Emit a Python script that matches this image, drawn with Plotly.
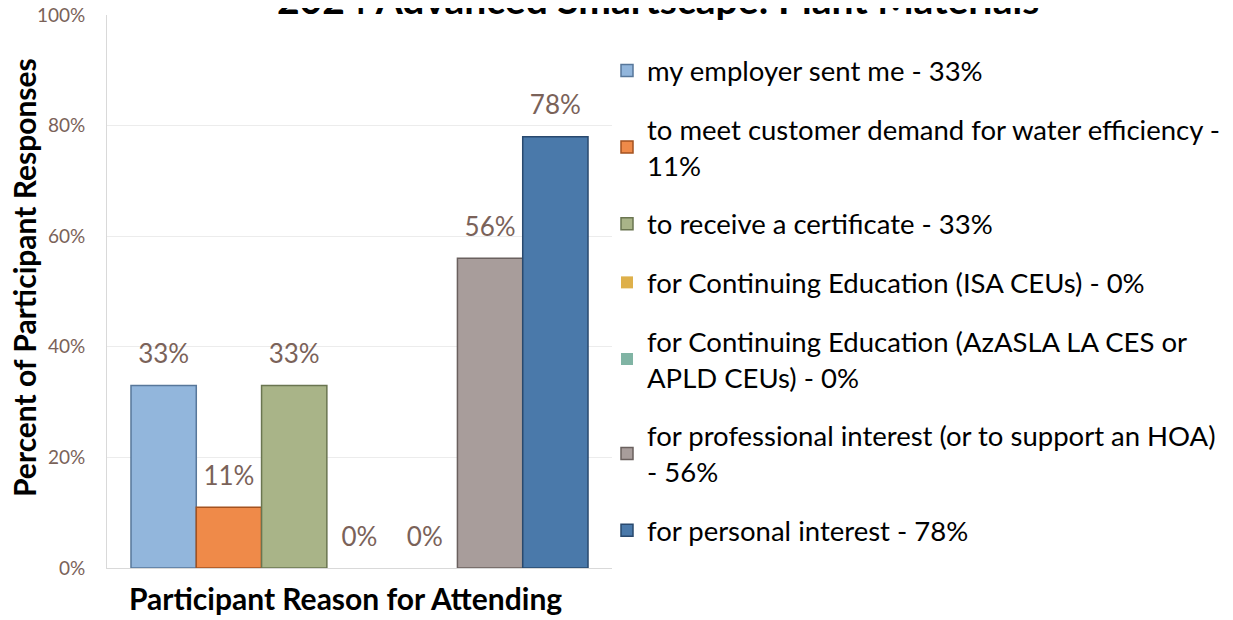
import plotly.graph_objects as go

categories = ["Participant Reason for Attending"]
series_names = [
    "my employer sent me - 33%",
    "to meet customer demand for water efficiency -<br>11%",
    "to receive a certificate - 33%",
    "for Continuing Education (ISA CEUs) - 0%",
    "for Continuing Education (AzASLA LA CES or<br>APLD CEUs) - 0%",
    "for professional interest (or to support an HOA)<br>- 56%",
    "for personal interest - 78%",
]
values = [0.33, 0.11, 0.33, 0.0, 0.0, 0.56, 0.78]
labels = ["33%", "11%", "33%", "0%", "0%", "56%", "78%"]
y_ticks = [0, 0.2, 0.4, 0.6, 0.8, 1.0]
y_tick_labels = ["0%", "20%", "40%", "60%", "80%", "100%"]
fill_colors = ["#92b6dc", "#ef8a49", "#a9b488", "#deb04a", "#80b4a4", "#a89d9b", "#4a79aa"]
edge_colors = ["#57779a", "#a4521f", "#6a7550", "#9a7a30", "#558070", "#6a605e", "#29496e"]

FONT = "Lato, 'Open Sans', sans-serif"
LABEL_COLOR = "#7a6259"

fig = go.Figure()
for name, v, fc, ec in zip(series_names, values, fill_colors, edge_colors):
    fig.add_trace(go.Bar(
        x=categories, y=[v], name=name, legendgroup=name,
        marker=dict(color=fc, line=dict(color=ec, width=1.5 if v > 0 else 0)),
    ))
for name, v, lab in zip(series_names, values, labels):
    fig.add_trace(go.Scatter(
        x=categories, y=[v], mode="markers+text", text=[lab],
        textposition="top center", showlegend=False, hoverinfo="skip",
        marker=dict(size=24, opacity=0), cliponaxis=False,
        textfont=dict(size=26, color=LABEL_COLOR, family=FONT),
    ))

fig.update_layout(
    width=1233, height=620,
    barmode="group", bargap=0.095, bargroupgap=0,
    scattermode="group", scattergap=0.095,
    plot_bgcolor="white", paper_bgcolor="white",
    margin=dict(l=99, r=629, t=7, b=60, autoexpand=False),
    font=dict(family=FONT),
    legend=dict(xref="container", yref="container", x=599/1233, y=1-38/620,
                xanchor="left", yanchor="top", maxheight=600,
                font=dict(size=27.5, color="black", family=FONT),
                tracegroupgap=20, itemwidth=30, bgcolor="rgba(0,0,0,0)"),
    showlegend=True,
    annotations=[
        dict(text="<b>2024 Advanced Smartscape: Plant Materials</b>",
             xref="paper", yref="paper", x=(650 - 99) / 505, y=1,
             xanchor="center", yanchor="bottom", yshift=-9, showarrow=False,
             font=dict(size=39, color="black", family=FONT)),
        dict(text="<b>Percent of Participant Responses</b>", textangle=-90,
             xref="paper", yref="paper", x=(16 - 99) / 505, y=(560 - 270) / 553,
             xanchor="center", yanchor="middle", showarrow=False,
             font=dict(size=30, color="black", family=FONT)),
        dict(text="<b>Participant Reason for Attending</b>",
             xref="paper", yref="paper", x=(337 - 99) / 505, y=(560 - 590) / 553,
             xanchor="center", yanchor="middle", showarrow=False,
             font=dict(size=30, color="black", family=FONT)),
    ],
)
fig.update_xaxes(
    type="category", range=[-0.5, 0.5], showticklabels=False,
    showline=True, linecolor="#d9d9d9", linewidth=1, showgrid=False,
    automargin=False,
)
fig.update_yaxes(
    range=[0, 1], tickvals=y_ticks, ticktext=y_tick_labels,
    ticklabeloverflow="allow",
    showgrid=True, gridcolor="#ececec", gridwidth=1,
    showline=True, linecolor="#d9d9d9", linewidth=1,
    ticks="outside", ticklen=17, tickcolor="rgba(0,0,0,0)",
    tickfont=dict(size=19, color=LABEL_COLOR, family=FONT),
    zeroline=False, automargin=False,
)

fig.write_html("out.html")
